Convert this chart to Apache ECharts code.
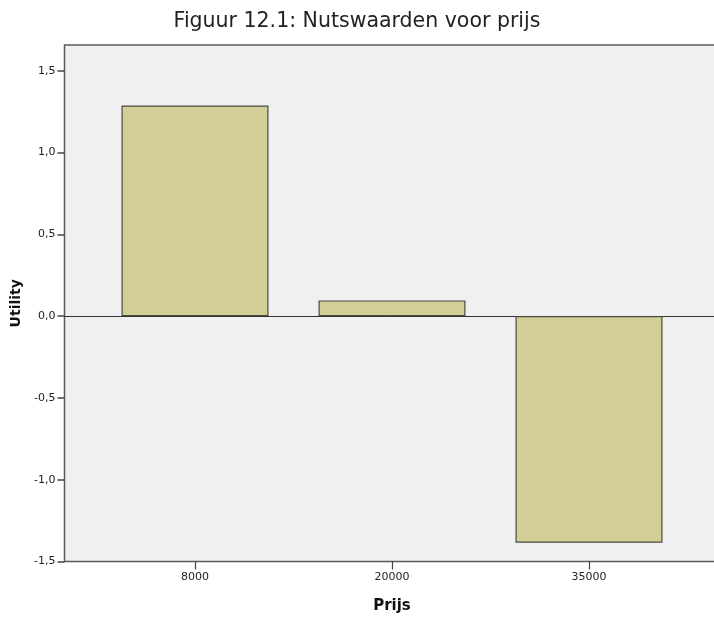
<!DOCTYPE html>
<html>
<head>
<meta charset="utf-8">
<script src="https://cdn.jsdelivr.net/npm/echarts@6/dist/echarts.min.js"></script>
<style>
html,body{margin:0;padding:0;background:#fff;}
#chart{width:714px;height:619px;}
</style>
</head>
<body>
<div id="chart"></div>
<script>
const categories = ['8000', '20000', '35000'];
const utilities = [1.287, 0.096, -1.385];
const yTicks = [-1.5, -1.0, -0.5, 0.0, 0.5, 1.0, 1.5];
const yMin = -1.5;
const yMax = 1.657;
const titleText = 'Figuur 12.1: Nutswaarden voor prijs';
const xName = 'Prijs';
const yName = 'Utility';

const chart = echarts.init(document.getElementById('chart'));
const font = 'DejaVu Sans';
const fmt = v => v.toFixed(1).replace('.', ',');

chart.setOption({
  animation: false,
  title: {
    text: titleText,
    left: 352, textAlign: 'center', top: 6,
    textStyle: {fontFamily: font, fontSize: 20.5, fontWeight: 'normal', color: '#222'}
  },
  grid: [
    {left: 64.5, width: 665, top: 45, bottom: 57.5, show: true, outerBoundsMode: 'none',
     backgroundColor: '#f0f0f0', borderColor: '#5a5a5a', borderWidth: 1.5},
    {left: 96.5, width: 591, top: 45, bottom: 57.5, outerBoundsMode: 'none'}
  ],
  xAxis: [
    {gridIndex: 0, type: 'value', min: 0, max: 1,
     axisLine: {show: true, onZero: true, lineStyle: {color: '#333', width: 1}},
     axisTick: {show: false}, axisLabel: {show: false}, splitLine: {show: false}},
    {gridIndex: 1, type: 'category', data: categories, position: 'bottom',
     axisLine: {show: false, onZero: false},
     axisTick: {show: true, alignWithLabel: true, length: 8, lineStyle: {color: '#444', width: 1.2}},
     axisLabel: {fontFamily: font, fontSize: 11, color: '#222', margin: 10},
     name: xName, nameLocation: 'middle', nameGap: 37,
     nameTextStyle: {fontFamily: font, fontSize: 15, fontWeight: 'bold', color: '#111'}}
  ],
  yAxis: [
    {gridIndex: 0, type: 'value', min: yMin, max: yMax,
     axisLine: {show: false},
     axisTick: {show: true, length: 7, customValues: yTicks, lineStyle: {color: '#444', width: 1.5}},
     axisLabel: {customValues: yTicks, formatter: fmt, fontFamily: font, fontSize: 11, color: '#222', margin: 9},
     splitLine: {show: false},
     name: yName, nameLocation: 'middle', nameGap: 40,
     nameTextStyle: {fontFamily: font, fontSize: 14, fontWeight: 'bold', color: '#111'}},
    {gridIndex: 1, type: 'value', min: yMin, max: yMax, show: false}
  ],
  series: [
    {type: 'bar', xAxisIndex: 1, yAxisIndex: 1, data: utilities, barWidth: 147,
     itemStyle: {color: '#d3cd96', borderColor: '#4a4a40', borderWidth: 1.2}}
  ]
});
</script>
</body>
</html>
